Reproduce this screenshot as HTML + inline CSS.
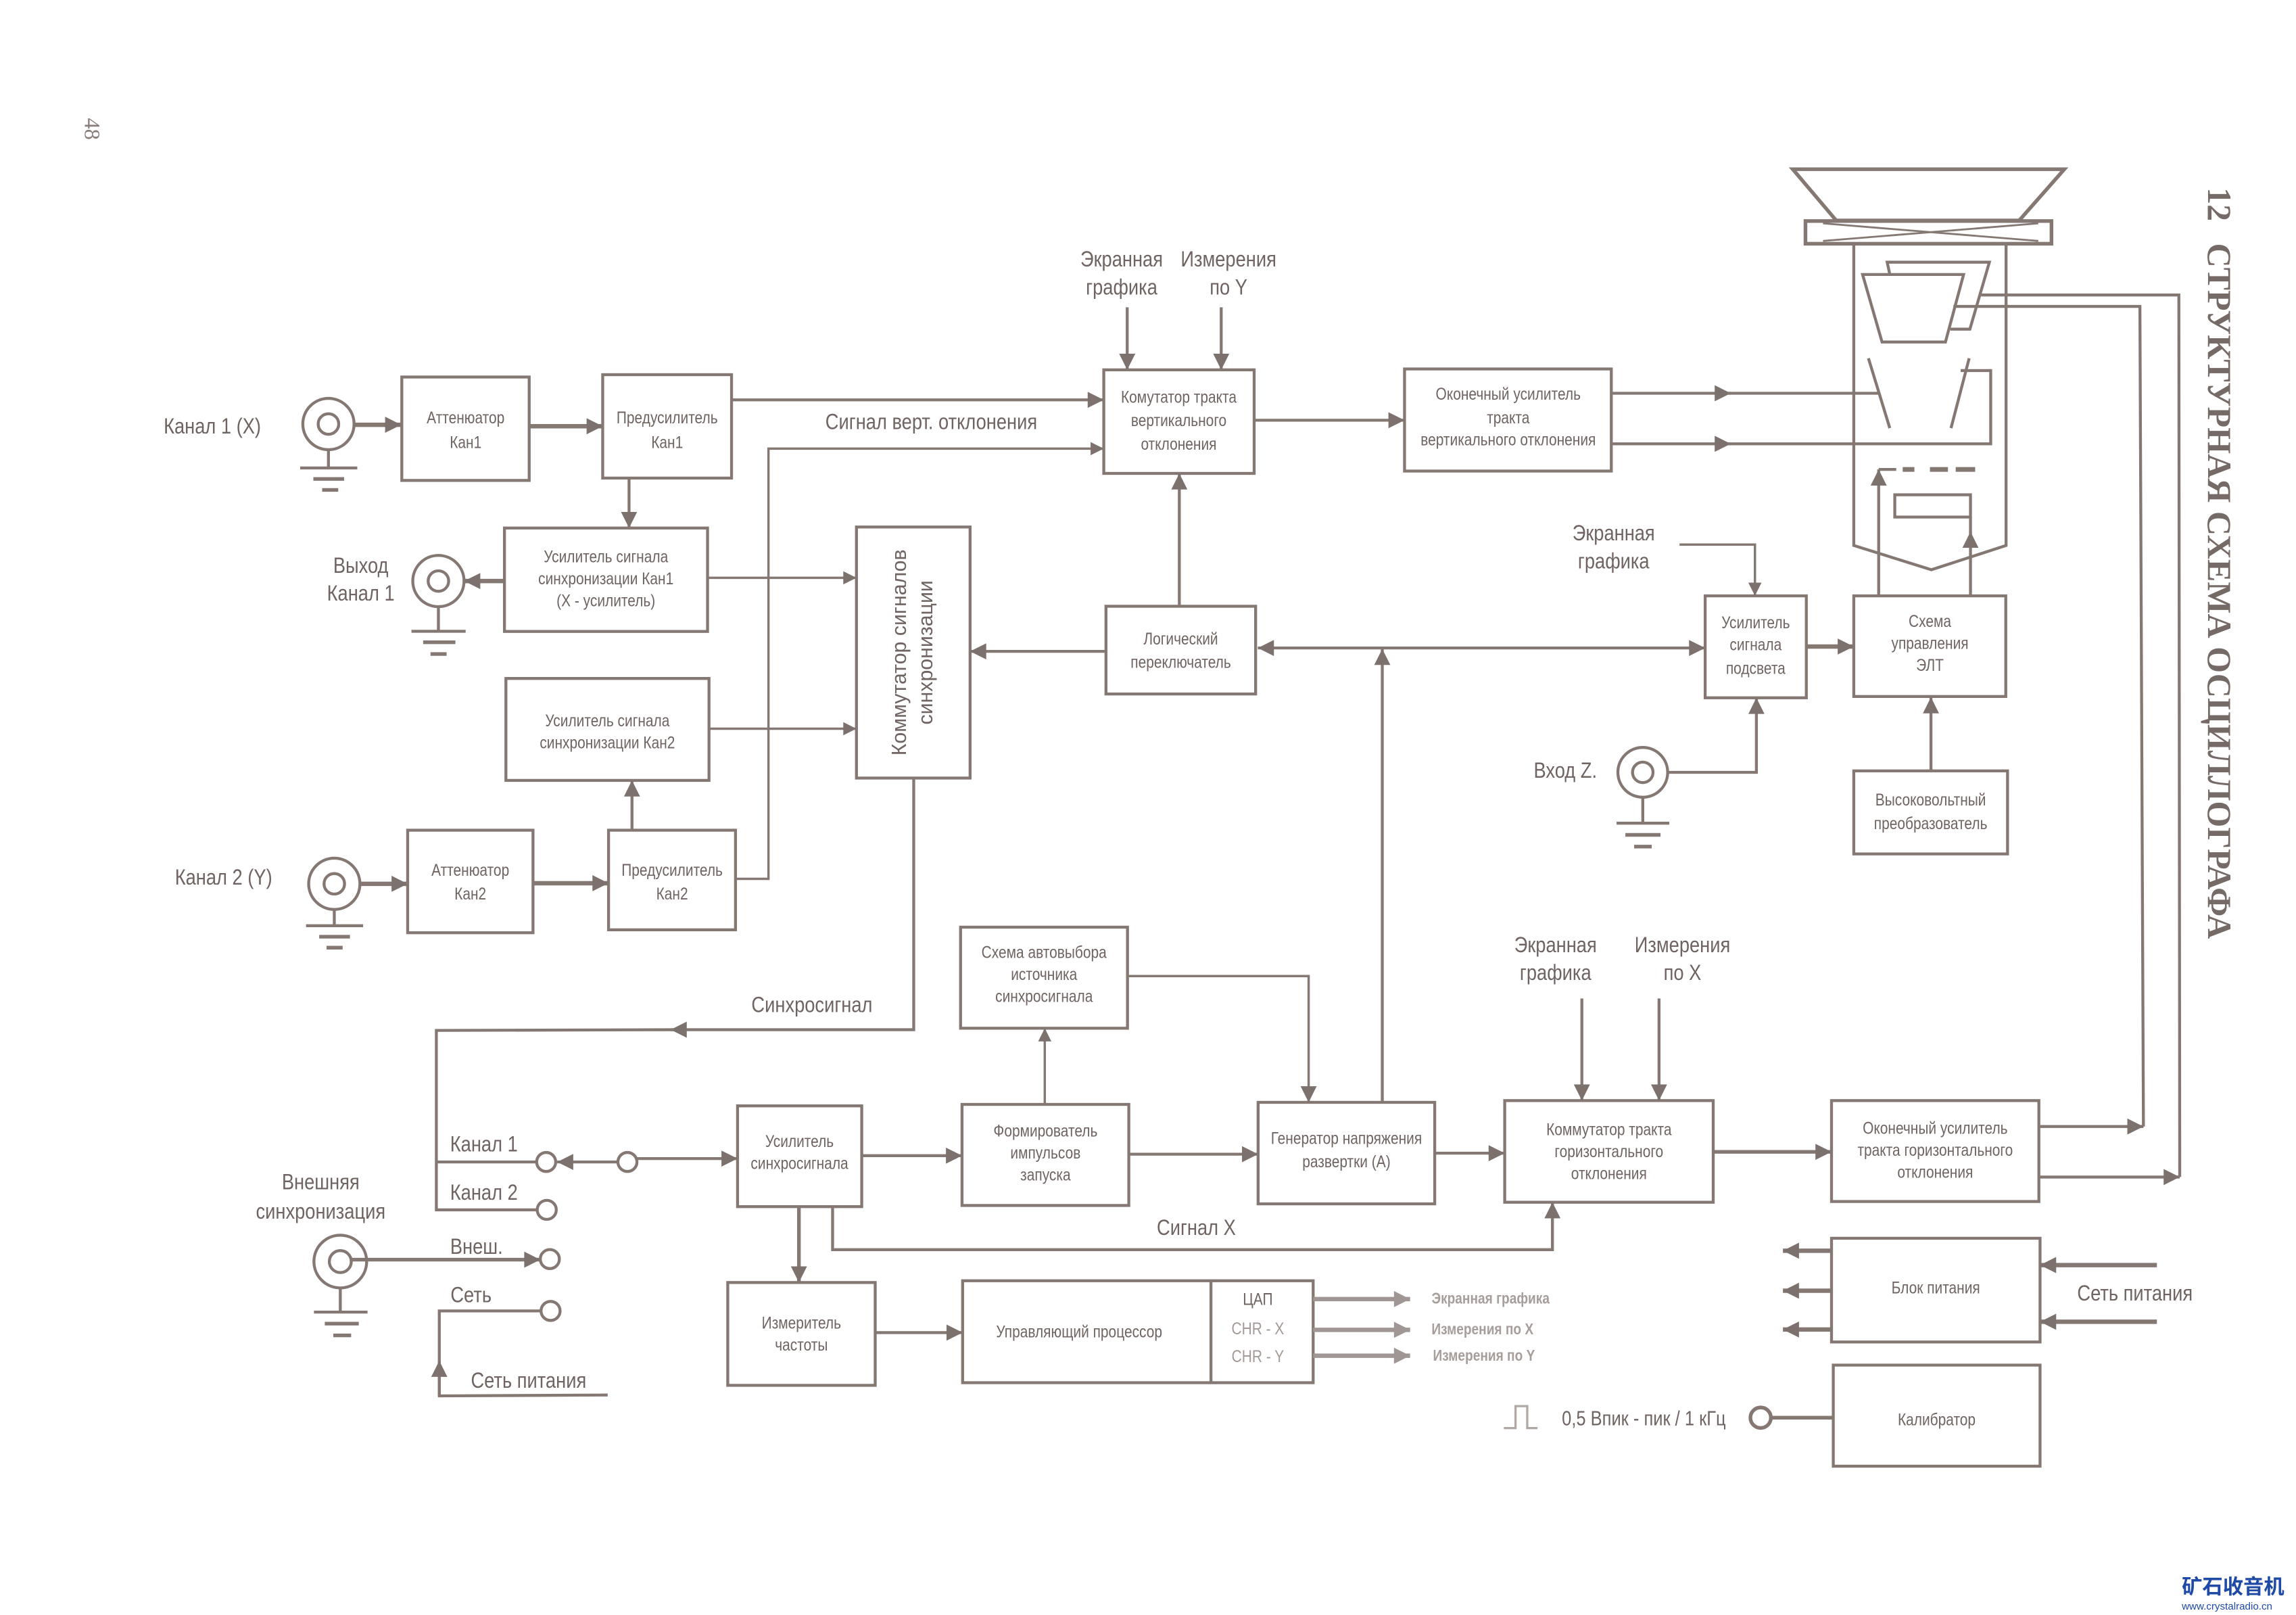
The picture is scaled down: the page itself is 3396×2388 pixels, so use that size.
<!DOCTYPE html>
<html><head><meta charset="utf-8">
<style>
html,body{margin:0;padding:0;background:#fff;}
svg{display:block;}
text{font-family:"Liberation Sans Narrow","Liberation Sans",sans-serif;fill:#6f6461;}
.b,.l,.ls,.g{transform-box:fill-box;transform-origin:center;transform:scaleX(0.84);}
.b{font-size:11.5px;text-anchor:middle;}
.l{font-size:15px;text-anchor:middle;}
.ls{font-size:15px;}
.g{fill:#a79e9b;font-size:10.5px;font-weight:bold;}
</style></head>
<body>
<svg width="3396" height="2388" viewBox="0 0 1568 1102.6" preserveAspectRatio="none" xmlns="http://www.w3.org/2000/svg">
<defs>
<marker id="a" viewBox="0 0 10 10" refX="10" refY="5" markerWidth="13" markerHeight="11" markerUnits="userSpaceOnUse" orient="auto-start-reverse"><path d="M0,0L10,5L0,10z" fill="#7d716d"/></marker>
<marker id="s" viewBox="0 0 10 10" refX="10" refY="5" markerWidth="11" markerHeight="9" markerUnits="userSpaceOnUse" orient="auto-start-reverse"><path d="M0,0L10,5L0,10z" fill="#7d716d"/></marker>
<marker id="gm" viewBox="0 0 10 10" refX="10" refY="5" markerWidth="13" markerHeight="11" markerUnits="userSpaceOnUse" orient="auto"><path d="M0,0L10,5L0,10z" fill="#a09693"/></marker>
</defs>
<rect width="1568" height="1102.6" fill="#fff"/>

<g fill="none" stroke="#857873" stroke-width="2">
<circle cx="224.3" cy="289.5" r="17.5"/><circle cx="224.3" cy="289.5" r="7"/>
<line x1="241.8" y1="290" x2="274" y2="290" stroke-width="3" marker-end="url(#a)"/>
<line x1="224.3" y1="307" x2="224.3" y2="319.5"/>
<line x1="205" y1="319.5" x2="244" y2="319.5"/><line x1="214" y1="327" x2="235" y2="327" stroke-width="2.5"/><line x1="220" y1="334.5" x2="231" y2="334.5" stroke-width="2.5"/>
<rect x="274.4" y="257.4" width="87" height="70.6"/>
<line x1="361.5" y1="291" x2="411.6" y2="291" stroke-width="3" marker-end="url(#a)"/>
<rect x="411.6" y="255.8" width="88" height="70.6"/>
<line x1="499.7" y1="273" x2="753.8" y2="273" marker-end="url(#a)"/>
<polyline points="502.3,600 524.8,600 524.8,306.3 753.8,306.3" stroke-width="1.6" marker-end="url(#s)"/>
<line x1="429.6" y1="326.4" x2="429.6" y2="360.5" marker-end="url(#a)"/>
<rect x="344.5" y="360.5" width="138.7" height="70.6"/>
<line x1="344.5" y1="396.7" x2="317" y2="396.7" stroke-width="3" marker-end="url(#a)"/>
<circle cx="299.4" cy="396.7" r="17.5"/><circle cx="299.4" cy="396.7" r="7"/>
<line x1="299.4" y1="414.2" x2="299.4" y2="431"/>
<line x1="281" y1="431" x2="318" y2="431"/><line x1="289" y1="438.5" x2="311" y2="438.5" stroke-width="2.5"/><line x1="294" y1="446.5" x2="305" y2="446.5" stroke-width="2.5"/>
<line x1="483.2" y1="394.5" x2="584.9" y2="394.5" stroke-width="1.6" marker-end="url(#s)"/>
<rect x="584.9" y="359.8" width="77.6" height="171.4"/>
<rect x="345.5" y="463.2" width="138.7" height="69.6"/>
<line x1="484.2" y1="497.5" x2="584.9" y2="497.5" stroke-width="1.6" marker-end="url(#s)"/>
<line x1="431.6" y1="566.8" x2="431.6" y2="532.8" marker-end="url(#a)"/>
<circle cx="228.3" cy="603.4" r="17.5"/><circle cx="228.3" cy="603.4" r="7"/>
<line x1="245.8" y1="603.4" x2="278.4" y2="603.4" stroke-width="3" marker-end="url(#a)"/>
<line x1="228.3" y1="621" x2="228.3" y2="632"/>
<line x1="209" y1="632" x2="248" y2="632"/><line x1="218" y1="639.5" x2="239" y2="639.5" stroke-width="2.5"/><line x1="223" y1="647" x2="234" y2="647" stroke-width="2.5"/>
<rect x="278.4" y="566.8" width="85.6" height="70"/>
<line x1="364" y1="603" x2="415.6" y2="603" stroke-width="3" marker-end="url(#a)"/>
<rect x="415.6" y="566.8" width="86.7" height="68"/>

<rect x="753.8" y="252.5" width="102.7" height="70.7"/>
<line x1="769.8" y1="209.8" x2="769.8" y2="252.5" marker-end="url(#a)"/>
<line x1="834" y1="209.8" x2="834" y2="252.5" marker-end="url(#a)"/>
<line x1="856.5" y1="286.9" x2="959.2" y2="286.9" marker-end="url(#a)"/>
<rect x="959.2" y="251.9" width="141.2" height="69.7"/>
<line x1="1100.4" y1="268.5" x2="1182" y2="268.5" marker-end="url(#a)"/>
<line x1="1180" y1="268.5" x2="1283" y2="268.5"/>
<line x1="1100.4" y1="303" x2="1182" y2="303" marker-end="url(#a)"/>
<polyline points="1180,303 1359.5,303 1359.5,253 1339,253"/>
<line x1="805.4" y1="413.9" x2="805.4" y2="323.2" marker-end="url(#a)"/>
<rect x="755.3" y="413.9" width="102.2" height="59.9"/>
<line x1="755.3" y1="444.7" x2="662.5" y2="444.7" marker-end="url(#a)"/>
<line x1="859" y1="442.4" x2="1164.5" y2="442.4" marker-start="url(#a)" marker-end="url(#a)"/>
<line x1="944" y1="752.6" x2="944" y2="443" marker-end="url(#a)"/>
<rect x="1164.5" y="406.8" width="69.1" height="69.6"/>
<polyline points="1147,371.8 1198.5,371.8 1198.5,406.8" stroke-width="1.6" marker-end="url(#s)"/>
<line x1="1233.6" y1="441.4" x2="1266" y2="441.4" stroke-width="3" marker-end="url(#a)"/>
<rect x="1266" y="406.8" width="103.8" height="68.7"/>
<rect x="1266" y="526.3" width="105" height="56.7"/>
<line x1="1318.7" y1="526.3" x2="1318.7" y2="476" marker-end="url(#a)"/>
<circle cx="1121.9" cy="527.3" r="17"/><circle cx="1121.9" cy="527.3" r="7"/>
<polyline points="1139,527.3 1199.5,527.3 1199.5,476.4" marker-end="url(#a)"/>
<line x1="1121.9" y1="544.3" x2="1121.9" y2="562"/>
<line x1="1104" y1="562" x2="1140" y2="562"/><line x1="1110" y1="570" x2="1134" y2="570" stroke-width="2.5"/><line x1="1116" y1="578" x2="1128" y2="578" stroke-width="2.5"/>

<polygon points="1224.3,115.5 1409.8,115.5 1379,150.5 1254,150.5" stroke-width="2.5"/>
<rect x="1233" y="150.9" width="168" height="15.5" stroke-width="2.5"/>
<line x1="1245" y1="164.5" x2="1392" y2="152.5" stroke-width="1.3"/>
<line x1="1245" y1="152.5" x2="1392" y2="164.5" stroke-width="1.3"/>
<polyline points="1266,166.4 1266,372.4 1319,389 1370,372.4 1370,166.4"/>
<polyline points="1290.6,187.4 1288.8,179 1358.6,179 1345.3,224.7 1332,224.7"/>
<polygon points="1272,187.4 1341,187.4 1328.6,233.5 1285.3,233.5"/>
<line x1="1276" y1="244.6" x2="1290.6" y2="292.3"/>
<line x1="1344.8" y1="244.6" x2="1332.4" y2="292.3"/>
<polyline points="1353,201.4 1488,201.4 1488.6,803.6"/>
<polyline points="1334,209.2 1461.4,209.2 1463.8,769.1"/>
<line x1="1283" y1="406.8" x2="1283" y2="320.5" marker-end="url(#a)"/>
<line x1="1283" y1="320.5" x2="1295" y2="320.5"/>
<g stroke-width="3.2"><line x1="1299.4" y1="320.5" x2="1307.4" y2="320.5"/><line x1="1318" y1="320.5" x2="1330.3" y2="320.5"/><line x1="1335.6" y1="320.5" x2="1348.9" y2="320.5"/></g>
<rect x="1294" y="337.8" width="51.7" height="15.2"/>
<line x1="1345.7" y1="406.8" x2="1345.7" y2="363" marker-end="url(#a)"/>
<line x1="1345.7" y1="365" x2="1345.7" y2="353"/>

<polyline points="624,531.2 624,703 458,703" marker-end="url(#a)"/>
<polyline points="460,703 298,703.5 298,826 367,826"/>
<line x1="298" y1="793.3" x2="366.5" y2="793.3"/>
<circle cx="373" cy="793.3" r="6.5"/>
<circle cx="373.4" cy="826" r="6.5"/>
<line x1="422" y1="793.3" x2="380.5" y2="793.3" marker-end="url(#a)"/>
<circle cx="428.5" cy="793.3" r="6.5"/>
<line x1="435" y1="791" x2="503.7" y2="791" marker-end="url(#a)"/>
<circle cx="232.4" cy="861.3" r="18"/><circle cx="232.4" cy="861.3" r="7.5"/>
<line x1="240" y1="860" x2="369" y2="860" stroke-width="2.5" marker-end="url(#a)"/>
<circle cx="375.5" cy="859.6" r="6.5"/>
<line x1="232.4" y1="879.3" x2="232.4" y2="895.8"/>
<line x1="214.4" y1="895.8" x2="251" y2="895.8"/><line x1="221.8" y1="903.7" x2="245" y2="903.7" stroke-width="2.5"/><line x1="227.6" y1="911.7" x2="239.8" y2="911.7" stroke-width="2.5"/>
<polyline points="369.5,895 300,895 300,953 415,952.4"/>
<line x1="300" y1="953" x2="300" y2="929" marker-end="url(#a)"/>
<circle cx="376" cy="895" r="6.5"/>

<rect x="503.7" y="755" width="84.8" height="68.8"/>
<line x1="588.5" y1="789" x2="657" y2="789" marker-end="url(#a)"/>
<rect x="657" y="754" width="113.9" height="69"/>
<line x1="713.5" y1="754" x2="713.5" y2="702" stroke-width="1.6" marker-end="url(#s)"/>
<rect x="656" y="633" width="114" height="69"/>
<polyline points="770,666.4 893.7,666.4 893.7,752.6" stroke-width="1.6" marker-end="url(#a)"/>
<line x1="770.9" y1="788" x2="859.2" y2="788" marker-end="url(#a)"/>
<rect x="859.2" y="752.6" width="120.6" height="69.3"/>
<line x1="979.8" y1="787.3" x2="1027.6" y2="787.3" marker-end="url(#a)"/>
<rect x="1027.6" y="751.4" width="142.4" height="69.4"/>
<line x1="1080.3" y1="681.7" x2="1080.3" y2="751.4" marker-end="url(#a)"/>
<line x1="1133" y1="681.7" x2="1133" y2="751.4" marker-end="url(#a)"/>
<line x1="1170" y1="786.4" x2="1250.8" y2="786.4" stroke-width="2.5" marker-end="url(#a)"/>
<rect x="1250.8" y="751.4" width="141.6" height="68.9"/>
<line x1="1392.4" y1="769.1" x2="1463.8" y2="769.1" marker-end="url(#a)"/>
<line x1="1392.4" y1="803.6" x2="1488.6" y2="803.6" marker-end="url(#a)"/>
<polyline points="568.6,823.8 568.6,853.2 1060.2,853.2 1060.2,820.8" marker-end="url(#a)"/>
<line x1="545.6" y1="823.8" x2="545.6" y2="875.6" stroke-width="2.5" marker-end="url(#a)"/>
<rect x="497" y="875.6" width="100.7" height="70.2"/>
<line x1="597.7" y1="909.8" x2="657.4" y2="909.8" marker-end="url(#a)"/>
<rect x="657.4" y="874.4" width="239.4" height="69.6"/>
<line x1="827" y1="874.4" x2="827" y2="944"/>
<g stroke="#a09693" stroke-width="3">
<line x1="896.8" y1="886.9" x2="963" y2="886.9" marker-end="url(#gm)"/>
<line x1="896.8" y1="907.9" x2="963" y2="907.9" marker-end="url(#gm)"/>
<line x1="896.8" y1="925.6" x2="963" y2="925.6" marker-end="url(#gm)"/>
</g>
<rect x="1250.8" y="845.4" width="142.4" height="70.8"/>
<g stroke-width="3">
<line x1="1250.8" y1="853.9" x2="1217.6" y2="853.9" marker-end="url(#a)"/>
<line x1="1250.8" y1="881.2" x2="1217.6" y2="881.2" marker-end="url(#a)"/>
<line x1="1250.8" y1="907.7" x2="1217.6" y2="907.7" marker-end="url(#a)"/>
<line x1="1473" y1="863.7" x2="1393.2" y2="863.7" marker-end="url(#a)"/>
<line x1="1473" y1="902.4" x2="1393.2" y2="902.4" marker-end="url(#a)"/>
</g>
<rect x="1252" y="932" width="141.2" height="69"/>
<line x1="1209" y1="967.9" x2="1252" y2="967.9" stroke-width="2.5"/>
<circle cx="1202.4" cy="967.9" r="7" stroke-width="2.5"/>
<path d="M1027,975 L1035,975 L1035,960 L1043,960 L1043,975 L1050,975" stroke="#b0a8a5" stroke-width="1.5"/>
</g>

<text class="l" x="145" y="296">Канал 1 (X)</text>
<text class="l" x="152.7" y="604">Канал 2 (Y)</text>
<text class="l" x="246.4" y="391">Выход</text>
<text class="l" x="246.4" y="410">Канал 1</text>
<text class="b" x="318" y="289">Аттенюатор</text><text class="b" x="318" y="306">Кан1</text>
<text class="b" x="455.6" y="289">Предусилитель</text><text class="b" x="455.6" y="306">Кан1</text>
<text class="l" x="636" y="293">Сигнал верт. отклонения</text>
<text class="b" x="413.8" y="384">Усилитель сигнала</text><text class="b" x="413.8" y="399">синхронизации Кан1</text><text class="b" x="413.8" y="414">(X - усилитель)</text>
<text class="b" x="414.8" y="496">Усилитель сигнала</text><text class="b" x="414.8" y="511">синхронизации Кан2</text>
<text class="b" x="321.2" y="598">Аттенюатор</text><text class="b" x="321.2" y="614">Кан2</text>
<text class="b" x="459" y="598">Предусилитель</text><text class="b" x="459" y="614">Кан2</text>
<g transform="translate(623.7,445.5) rotate(-90)"><text x="0" y="-5" style="font-family:'Liberation Sans',sans-serif;font-size:14px;text-anchor:middle">Коммутатор сигналов</text><text x="0" y="13" style="font-family:'Liberation Sans',sans-serif;font-size:14px;text-anchor:middle">синхронизации</text></g>
<text class="l" x="766" y="182">Экранная</text><text class="l" x="766" y="201">графика</text>
<text class="l" x="839" y="182">Измерения</text><text class="l" x="839" y="201">по Y</text>
<text class="b" x="805" y="275">Комутатор тракта</text><text class="b" x="805" y="291">вертикального</text><text class="b" x="805" y="307">отклонения</text>
<text class="b" x="1030" y="273">Оконечный усилитель</text><text class="b" x="1030" y="289">тракта</text><text class="b" x="1030" y="304">вертикального отклонения</text>
<text class="b" x="806.4" y="440">Логический</text><text class="b" x="806.4" y="456">переключатель</text>
<text class="l" x="1102" y="369">Экранная</text><text class="l" x="1102" y="388">графика</text>
<text class="b" x="1199" y="429">Усилитель</text><text class="b" x="1199" y="444">сигнала</text><text class="b" x="1199" y="460">подсвета</text>
<text class="b" x="1318" y="428">Схема</text><text class="b" x="1318" y="443">управления</text><text class="b" x="1318" y="458">ЭЛТ</text>
<text class="b" x="1318.5" y="550">Высоковольтный</text><text class="b" x="1318.5" y="566">преобразователь</text>
<text class="l" x="1069" y="531">Вход Z.</text>
<text class="l" x="554.5" y="691">Синхросигнал</text>
<text class="ls" x="303" y="786">Канал 1</text>
<text class="ls" x="303" y="819">Канал 2</text>
<text class="l" x="219" y="812">Внешняя</text><text class="l" x="219" y="832">синхронизация</text>
<text class="ls" x="304" y="856">Внеш.</text>
<text class="ls" x="305" y="889">Сеть</text>
<text class="l" x="361" y="947.5">Сеть питания</text>
<text class="b" x="546" y="783">Усилитель</text><text class="b" x="546" y="798">синхросигнала</text>
<text class="b" x="714" y="776">Формирователь</text><text class="b" x="714" y="791">импульсов</text><text class="b" x="714" y="806">запуска</text>
<text class="b" x="713" y="654">Схема автовыбора</text><text class="b" x="713" y="669">источника</text><text class="b" x="713" y="684">синхросигнала</text>
<text class="b" x="919.5" y="781">Генератор напряжения</text><text class="b" x="919.5" y="797">развертки (A)</text>
<text class="l" x="1062.3" y="650">Экранная</text><text class="l" x="1062.3" y="669">графика</text>
<text class="l" x="1149" y="650">Измерения</text><text class="l" x="1149" y="669">по X</text>
<text class="b" x="1098.8" y="775">Коммутатор тракта</text><text class="b" x="1098.8" y="790">горизонтального</text><text class="b" x="1098.8" y="805">отклонения</text>
<text class="b" x="1321.6" y="774">Оконечный усилитель</text><text class="b" x="1321.6" y="789">тракта горизонтального</text><text class="b" x="1321.6" y="804">отклонения</text>
<text class="l" x="817" y="843">Сигнал X</text>
<text class="b" x="547.3" y="907">Измеритель</text><text class="b" x="547.3" y="922">частоты</text>
<text class="b" x="737" y="913">Управляющий процессор</text>
<text class="b" x="859" y="891">ЦАП</text>
<text class="b" x="859" y="911" style="fill:#a39a97">CHR - X</text>
<text class="b" x="859" y="930" style="fill:#a39a97">CHR - Y</text>
<text class="g" x="970" y="890">Экранная графика</text>
<text class="g" x="971" y="911">Измерения по X</text>
<text class="g" x="972" y="929">Измерения по Y</text>
<text class="b" x="1322" y="883">Блок питания</text>
<text class="l" x="1458" y="888">Сеть питания</text>
<text class="b" x="1322.6" y="973">Калибратор</text>
<text class="ls" x="1056" y="973" style="font-size:14px">0,5 Впик - пик / 1 кГц</text>

<text x="58" y="88" transform="rotate(90 58 88)" style="font-family:'Liberation Serif',serif;font-size:15px;text-anchor:middle;fill:#8a7e7a">48</text>
<g transform="translate(1508,128) rotate(90)">
<text x="0" y="0" style="font-family:'Liberation Serif',serif;font-weight:bold;font-size:23px;fill:#766a66">12</text>
<text x="38" y="0" textLength="475" lengthAdjust="spacingAndGlyphs" style="font-family:'Liberation Serif',serif;font-weight:bold;font-size:23px;fill:#766a66">СТРУКТУРНАЯ СХЕМА ОСЦИЛЛОГРАФА</text>
</g>
<text x="1490" y="1088" style="font-family:'Liberation Sans','Noto Sans CJK SC',sans-serif;font-size:14px;font-weight:bold;fill:#1f4aa6">矿石收音机</text>
<text x="1490" y="1099" style="font-family:'Liberation Sans',sans-serif;font-size:7px;fill:#1f4aa6">www.crystalradio.cn</text>
</svg>
</body></html>
